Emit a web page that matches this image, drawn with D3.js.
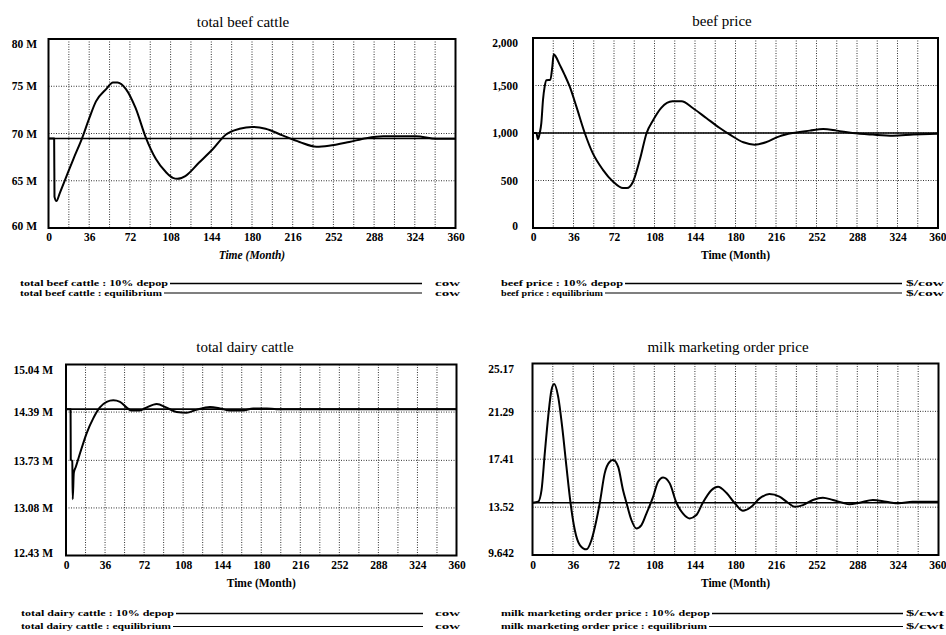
<!DOCTYPE html>
<html><head><meta charset="utf-8">
<script src="https://cdn.jsdelivr.net/npm/d3@7"></script>
<style>
body{margin:0;background:#fff;}
svg{display:block;}
text{font-family:"Liberation Serif","DejaVu Serif",serif;fill:#000;}
</style></head>
<body><svg id="c" width="946" height="635"></svg>
<script>
// ---------- DATA ----------
const xTicks = [0,36,72,108,144,180,216,252,288,324,360];
const gridStep = 18;

const beefCattleTicks = [60,65,70,75,80];
const beefCattleTickLabels = ["60 M","65 M","70 M","75 M","80 M"];
const beefCattleEquilibrium = [[0,69.47],[360,69.47]];
const beefCattleDepop = [[0,69.47],[5,69.47],[5.3,63.3],[7,62.85],[10,63.7],[15,65.2],[22,67.3],[30,69.6],[36,71.6],[42,73.4],[51,74.7],[57,75.4],[61,75.4],[68.5,74.7],[77,72.7],[86,69.6],[95,67.3],[104,65.9],[110,65.3],[114,65.2],[121,65.5],[133,66.9],[145,68.3],[157,69.9],[169,70.5],[180,70.7],[192,70.5],[207,69.8],[222,69.1],[237,68.6],[248,68.7],[266,69.1],[281,69.5],[296,69.7],[325,69.7],[343,69.45],[360,69.45]];

const beefPriceTicks = [0,500,1000,1500,2000];
const beefPriceTickLabels = ["0","500","1,000","1,500","2,000"];
const beefPriceEquilibrium = [[0,1000],[360,1000]];
const beefPriceDepop = [[0,1000],[3,1000],[4.4,935],[6,1000],[7.4,1105],[8.9,1350],[10.4,1490],[11.9,1555],[15.4,1560],[17.2,1700],[18.4,1830],[20,1810],[23.7,1720],[28,1615],[32.6,1490],[38.5,1280],[46,1000],[53,790],[62,615],[71,490],[80,420],[83.5,420],[89,490],[95,720],[101,1000],[107,1140],[114,1265],[124,1333],[132,1333],[142,1263],[154,1158],[166,1053],[175,983],[187,902],[197,877],[207,902],[219,965],[231,1000],[246,1025],[258,1042],[270,1025],[284,1000],[302,983],[320,972],[338,983],[360,993]];

const dairyTicks = [12.43,13.08,13.73,14.39,15.04];
const dairyTickLabels = ["12.43 M","13.08 M","13.73 M","14.39 M","15.04 M"];
const dairyEquilibrium = [[0,14.43],[360,14.43]];
const dairyDepop = [[0,14.43],[4.2,14.43],[4.4,13.74],[5.8,13.72],[6.2,13.2],[7.2,13.56],[9,13.64],[13,13.83],[19,14.1],[25,14.3],[31,14.45],[37.5,14.53],[43.6,14.55],[49.8,14.53],[56,14.45],[60.5,14.41],[68,14.41],[74,14.45],[83.6,14.5],[92.8,14.45],[102,14.39],[111,14.38],[120,14.42],[132.7,14.46],[142,14.44],[151,14.41],[163,14.41],[172.6,14.44],[185,14.44],[194,14.43],[200,14.43],[360,14.43]];

const milkTicks = [9.642,13.52,17.41,21.29,25.17];
const milkTickLabels = ["9.642","13.52","17.41","21.29","25.17"];
const milkEquilibrium = [[0,13.88],[360,13.88]];
const milkDepop = [[0,13.88],[5,13.96],[8,14.9],[10.9,17.9],[13.9,20.85],[16.8,23.0],[19.2,23.5],[22.7,22.5],[26.6,19.8],[30.1,16.8],[33.7,13.88],[37.5,11.67],[42,10.45],[47.8,10.1],[52.3,10.86],[56.7,12.48],[59.7,13.88],[64,16.26],[68.5,17.2],[71.5,17.34],[75.9,16.8],[80.3,14.9],[83.3,13.88],[87.7,12.48],[92.1,11.8],[96.6,12.07],[101,13.0],[107,14.37],[111.3,15.58],[115.8,15.93],[121.7,15.45],[127.6,13.88],[133.5,13.0],[139.4,12.61],[145.3,12.88],[151,13.88],[158.6,14.9],[164.5,15.18],[171.9,14.69],[179,13.88],[186.6,13.23],[194,13.56],[201.4,14.23],[210,14.58],[219,14.37],[226.5,13.88],[232.4,13.56],[239.8,13.69],[248.6,14.1],[257.5,14.29],[266.4,14.1],[275,13.88],[281,13.75],[290,13.88],[301.8,14.1],[313.6,13.96],[325,13.83],[337,13.96],[360,13.96]];

const titles = ["total beef cattle","beef price","total dairy cattle","milk marketing order price"];
const legendDepop = ["total beef cattle : 10% depop","beef price : 10% depop","total dairy cattle : 10% depop","milk marketing order price : 10% depop"];
const legendEquil = ["total beef cattle : equilibrium","beef price : equilibrium","total dairy cattle : equilibrium","milk marketing order price : equilibrium"];
const units = ["cow","$/cow","cow","$/cwt"];
const xAxisTitle = "Time (Month)";

// ---------- LAYOUT ----------
const panels = [
  {x0:48.5,x1:455.5,y0:39,y1:228,ticks:beefCattleTicks,labels:beefCattleTickLabels,depop:beefCattleDepop,eq:beefCattleEquilibrium,
   labelRight:37,titleX:243,titleY:27,tickY:242,axisY:259,italic:true,lastEnd:false,
   leg:{tx:20,w1:148,w2:142,lineEnd:422,ux:435,uw:25,r1:286,r2:295.5,fs:8}},
  {x0:533,x1:938,y0:38,y1:228,ticks:beefPriceTicks,labels:beefPriceTickLabels,depop:beefPriceDepop,eq:beefPriceEquilibrium,
   labelRight:518,titleX:722,titleY:26,tickY:242,axisY:259,italic:false,lastEnd:true,
   leg:{tx:501,w1:122,w2:102,lineEnd:902,ux:906,uw:38,r1:286,r2:295.5,fs:8}},
  {x0:66,x1:456.5,y0:364.5,y1:555.5,ticks:dairyTicks,labels:dairyTickLabels,depop:dairyDepop,eq:dairyEquilibrium,
   labelRight:53,titleX:245,titleY:352,tickY:570,axisY:587,italic:false,lastEnd:false,
   leg:{tx:21,w1:153,w2:150,lineEnd:423,ux:435,uw:25,r1:616,r2:629,fs:9}},
  {x0:532.5,x1:938.5,y0:363.5,y1:555,ticks:milkTicks,labels:milkTickLabels,depop:milkDepop,eq:milkEquilibrium,
   labelRight:514,titleX:728,titleY:352,tickY:570,axisY:587,italic:false,lastEnd:true,
   leg:{tx:501,w1:209,w2:206,lineEnd:903,ux:906,uw:38,r1:616,r2:629,fs:9}}
];

const svg = d3.select("#c");

panels.forEach((p,i)=>{
  const g = svg.append("g");
  const x = d3.scaleLinear().domain([0,360]).range([p.x0,p.x1]);
  const y = d3.scaleLinear().domain([p.ticks[0],p.ticks[p.ticks.length-1]]).range([p.y1,p.y0]);

  g.append("text").attr("x",p.titleX).attr("y",p.titleY).attr("text-anchor","middle")
   .attr("font-size",15).text(titles[i]);

  const vg = d3.range(gridStep,360,gridStep);
  g.append("g").selectAll("line").data(vg).join("line")
   .attr("x1",d=>x(d)).attr("x2",d=>x(d)).attr("y1",p.y0).attr("y2",p.y1)
   .attr("stroke","#333").attr("stroke-width",1).attr("stroke-dasharray","1,1.5");
  g.append("g").selectAll("line").data(p.ticks.slice(1,-1)).join("line")
   .attr("x1",p.x0).attr("x2",p.x1).attr("y1",d=>y(d)).attr("y2",d=>y(d))
   .attr("stroke","#333").attr("stroke-width",1).attr("stroke-dasharray","1,1.5");

  const xa = d3.axisBottom(x).tickValues(xTicks).tickSize(0).tickPadding(0).tickFormat(d3.format("d"));
  const xg = g.append("g").attr("transform",`translate(0,${p.tickY-9})`).call(xa);
  xg.select(".domain").remove();
  xg.selectAll("text").attr("font-size",11.5).attr("font-weight","bold").attr("fill","#000")
    .attr("font-family","'Liberation Serif',serif");
  if (p.lastEnd) {
    xg.selectAll(".tick").filter(d=>d===360).select("text").attr("text-anchor","end").attr("x",946-x(360));
  }

  const ya = d3.axisLeft(y).tickValues(p.ticks).tickSize(0).tickPadding(0).tickFormat((d,k)=>p.labels[k]);
  const yg = g.append("g").attr("transform",`translate(${p.labelRight},0)`).call(ya);
  yg.select(".domain").remove();
  yg.selectAll("text").attr("font-size",11.5).attr("font-weight","bold").attr("fill","#000")
    .attr("font-family","'Liberation Serif',serif");
  yg.selectAll(".tick").filter((d,k)=>k===p.ticks.length-1).select("text").attr("dy","0.75em");
  yg.selectAll(".tick").filter((d,k)=>k===0).select("text").attr("dy","0.1em");

  g.append("text").attr("x",(p.x0+p.x1)/2).attr("y",p.axisY).attr("text-anchor","middle")
   .attr("font-size",11.5).attr("font-weight","bold").attr("font-style",p.italic?"italic":"normal")
   .text(xAxisTitle);

  const line = d3.line().x(d=>x(d[0])).y(d=>y(d[1])).curve(d3.curveMonotoneX);
  g.append("path").datum(p.eq).attr("d",line).attr("fill","none").attr("stroke","#000").attr("stroke-width",1.6);
  g.append("path").datum(p.depop).attr("d",line).attr("fill","none").attr("stroke","#000").attr("stroke-width",2)
   .attr("stroke-linejoin","round");

  g.append("rect").attr("x",p.x0).attr("y",p.y0).attr("width",p.x1-p.x0).attr("height",p.y1-p.y0)
   .attr("fill","none").attr("stroke","#000").attr("stroke-width",2);

  const L = p.leg;
  const rows = [[legendDepop[i],L.w1,L.r1,1.3],[legendEquil[i],L.w2,L.r2,1.1]];
  rows.forEach(([t,w,ry,sw])=>{
    g.append("text").attr("x",L.tx).attr("y",ry).attr("font-size",L.fs).attr("font-weight","bold")
     .attr("textLength",w).attr("lengthAdjust","spacingAndGlyphs").text(t);
    g.append("line").attr("x1",L.tx+w+2).attr("x2",L.lineEnd).attr("y1",ry-2.5).attr("y2",ry-2.5)
     .attr("stroke","#000").attr("stroke-width",sw);
    g.append("text").attr("x",L.ux).attr("y",ry).attr("font-size",L.fs).attr("font-weight","bold")
     .attr("textLength",L.uw).attr("lengthAdjust","spacingAndGlyphs").text(units[i]);
  });
});
</script></body></html>
